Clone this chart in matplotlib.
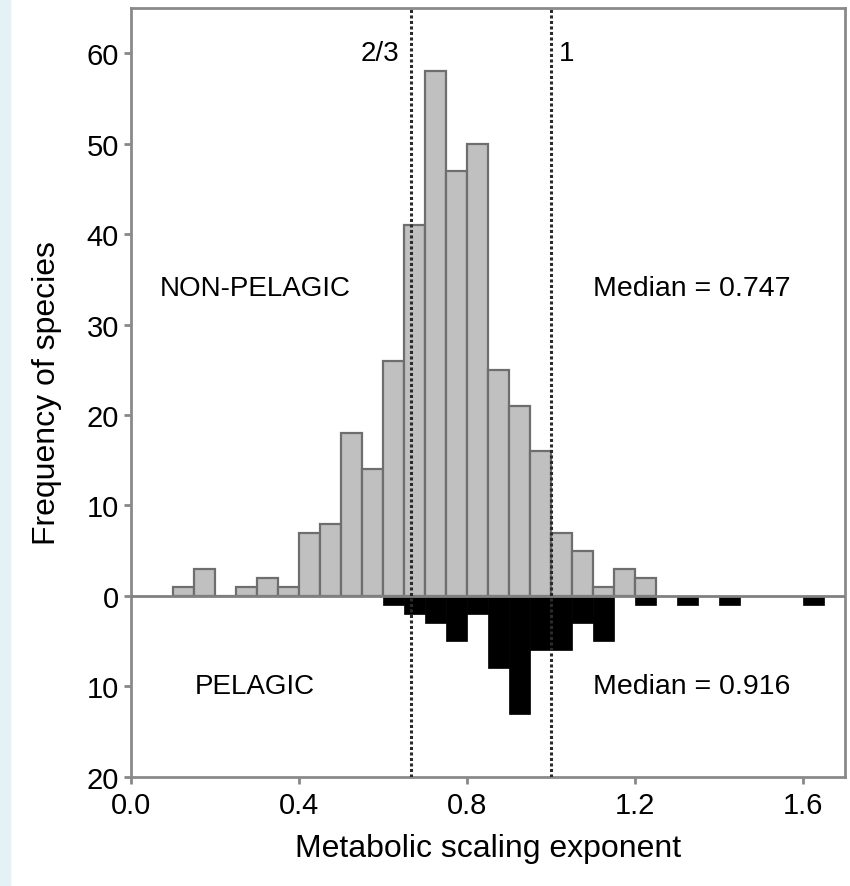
import matplotlib
matplotlib.use("Agg")
import matplotlib.pyplot as plt
from matplotlib.patches import Rectangle

plt.rcParams["font.family"] = ["Liberation Sans", "DejaVu Sans"]

# Histogram data (bin lower edges, width 0.05)
bin_width = 0.05
nonpel_bins = [0.10, 0.15, 0.20, 0.25, 0.30, 0.35, 0.40, 0.45, 0.50, 0.55, 0.60, 0.65,
               0.70, 0.75, 0.80, 0.85, 0.90, 0.95, 1.00, 1.05, 1.10, 1.15, 1.20]
nonpel_counts = [1, 3, 0, 1, 2, 1, 7, 8, 18, 14, 26, 41,
                 58, 47, 50, 25, 21, 16, 7, 5, 1, 3, 2]

pel_bins = [0.60, 0.65, 0.70, 0.75, 0.80, 0.85, 0.90, 0.95, 1.00, 1.05, 1.10,
            1.20, 1.30, 1.40, 1.60]
pel_counts = [1, 2, 3, 5, 2, 8, 13, 6, 6, 3, 5, 1, 1, 1, 1]

ref_lines = [2 / 3, 1.0]

yticks = [-20, -10, 0, 10, 20, 30, 40, 50, 60]
xticks = [0.0, 0.4, 0.8, 1.2, 1.6]

fig = plt.figure(figsize=(8.5, 8.87), dpi=100)
fig.patches.append(Rectangle((0, 0), 0.012, 1, transform=fig.transFigure,
                             color="#e4f1f5", zorder=0))
ax = fig.add_axes([0.154, 0.123, 0.840, 0.867])

# non-pelagic (up)
ax.bar(nonpel_bins, nonpel_counts, width=bin_width, align="edge",
       color="#c0c0c0", edgecolor="#6e6e6e", linewidth=1.6, zorder=2)
# pelagic (down)
ax.bar(pel_bins, [-c for c in pel_counts], width=bin_width, align="edge",
       color="black", edgecolor="black", linewidth=0.5, zorder=2)

ax.axhline(0, color="#808080", linewidth=2, zorder=3)

for xv in ref_lines:
    ax.axvline(xv, color="#2a2a2a", linewidth=2.2, linestyle=(0, (1, 0.8)), zorder=4)
ax.text(0.64, 60, "2/3", ha="right", va="center", fontsize=20)
ax.text(1.02, 60, "1", ha="left", va="center", fontsize=20)

ax.text(0.295, 34, "NON-PELAGIC", ha="center", va="center", fontsize=20)
ax.text(1.336, 34, "Median = 0.747", ha="center", va="center", fontsize=20.5)
ax.text(0.295, -10, "PELAGIC", ha="center", va="center", fontsize=20)
ax.text(1.336, -10, "Median = 0.916", ha="center", va="center", fontsize=20.5)

ax.set_xlim(0, 1.7)
ax.set_ylim(-20, 65)
ax.set_xticks(xticks)
ax.set_xticklabels([f"{v:.1f}" for v in xticks])
ax.set_yticks(yticks)
ax.set_yticklabels([str(abs(v)) for v in yticks])
ax.tick_params(labelsize=21, color="#888888", width=2, length=5)
ax.tick_params(axis="x", pad=5)

for s in ax.spines.values():
    s.set_color("#8a8a8a")
    s.set_linewidth(2)

ax.set_xlabel("Metabolic scaling exponent", fontsize=23, labelpad=10)
ax.set_ylabel("Frequency of species", fontsize=23, labelpad=18)

fig.savefig("out.png", dpi=100)
